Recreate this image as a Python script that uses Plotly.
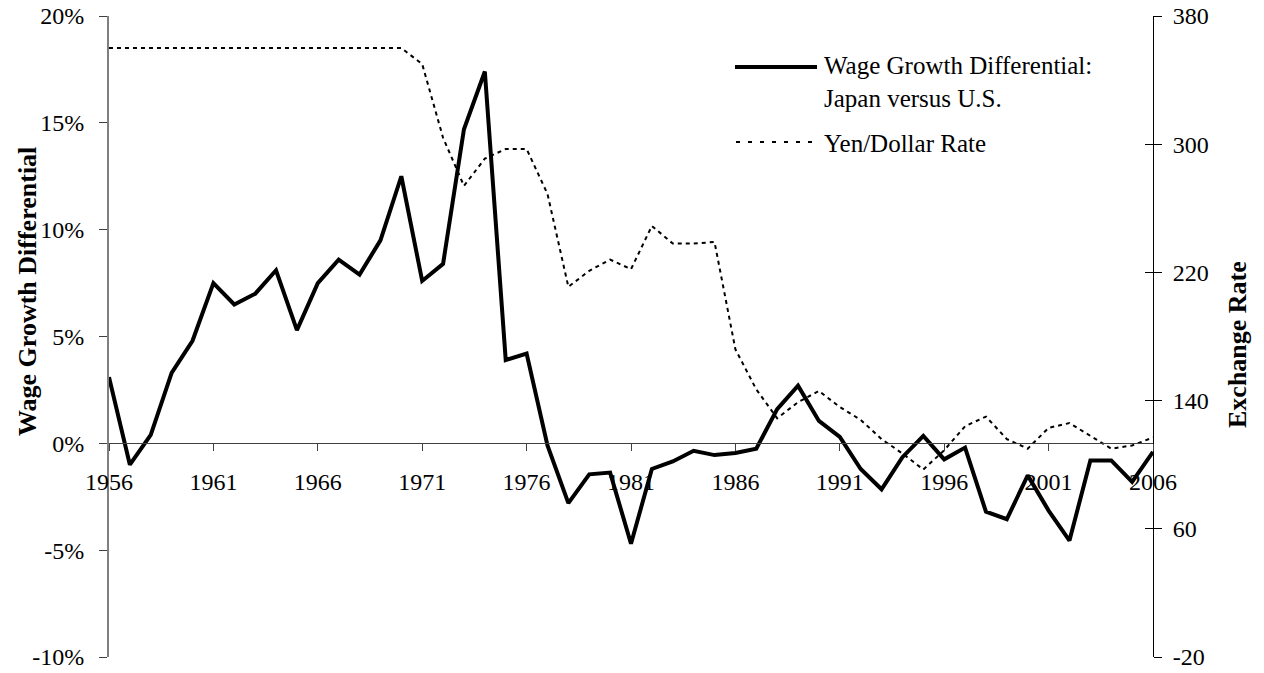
import plotly.graph_objects as go

years = list(range(1956, 2007))
wage_diff = [3.1, -1.0, 0.4, 3.3, 4.8, 7.5, 6.5, 7.0, 8.1, 5.3,
             7.5, 8.6, 7.9, 9.5, 12.5, 7.6, 8.4, 14.7, 17.4, 3.9,
             4.2, -0.1, -2.8, -1.45, -1.37, -4.7, -1.2, -0.85, -0.35, -0.55,
             -0.45, -0.25, 1.6, 2.7, 1.05, 0.3, -1.2, -2.15, -0.65, 0.35,
             -0.75, -0.2, -3.2, -3.55, -1.5, -3.15, -4.55, -0.8, -0.8, -1.8,
             -0.4]
yen_dollar = [360, 360, 360, 360, 360, 360, 360, 360, 360, 360,
              360, 360, 360, 360, 360, 350, 304, 274, 291, 297,
              297, 269, 211, 221, 228, 222, 249, 238, 238, 239,
              172, 147, 129, 139, 146, 136, 128, 116, 107, 97,
              109, 124, 130, 116, 110, 123, 126, 118, 110, 112,
              117]
x_ticks = [1956, 1961, 1966, 1971, 1976, 1981, 1986, 1991, 1996, 2001, 2006]
left_ticks = [-10, -5, 0, 5, 10, 15, 20]
left_labels = ["-10%", "-5%", "0%", "5%", "10%", "15%", "20%"]
right_ticks = [-20, 60, 140, 220, 300, 380]
right_labels = ["-20", "60", "140", "220", "300", "380"]

W, H = 1264, 673
L, R, T, B = 109, 1153, 16, 657
FONT = "Liberation Serif, Times New Roman, serif"


def px(xp):
    return (xp - L) / (R - L)


def py(yp):
    return (B - yp) / (B - T)


fig = go.Figure()
# invisible helper so the inside-tick copy of the right axis is drawn
fig.add_trace(go.Scatter(x=years, y=yen_dollar, yaxis="y3", mode="lines",
                         line=dict(width=0, color="white"), opacity=0,
                         showlegend=False, hoverinfo="skip"))
fig.add_trace(go.Scatter(x=years, y=wage_diff, mode="lines", name="Wage Growth Differential",
                         line=dict(color="black", width=4), yaxis="y", showlegend=False))
fig.add_trace(go.Scatter(x=years, y=yen_dollar, mode="lines", name="Yen/Dollar Rate",
                         line=dict(color="black", width=2, dash="4px,4px"), yaxis="y2",
                         showlegend=False))

fig.update_layout(
    width=W, height=H,
    margin=dict(l=L, r=W - R, t=T, b=H - B, pad=0, autoexpand=False),
    paper_bgcolor="white", plot_bgcolor="white",
    font=dict(family=FONT, size=24, color="black"),
    xaxis=dict(range=[1956, 2006], tickvals=x_ticks, ticktext=[str(v) for v in x_ticks],
               ticks="outside", ticklen=7, automargin=False,
               tickcolor="#404040", showline=True, linecolor="#404040", linewidth=1,
               showgrid=False, zeroline=False, anchor="free", position=1/3,
               ticklabelstandoff=10, tickfont=dict(size=24)),
    yaxis=dict(range=[-10, 20], tickvals=left_ticks, ticktext=left_labels, ticks="outside",
               ticklen=8, tickcolor="#404040", showline=True, linecolor="#808080",
               linewidth=2, showgrid=False, zeroline=False, ticklabelstandoff=10,
               automargin=False, tickfont=dict(size=24)),
    yaxis2=dict(range=[-20, 380], tickvals=right_ticks, ticktext=right_labels,
                overlaying="y", side="right", automargin=False,
                ticks="outside", ticklen=8, tickcolor="black", showline=True,
                linecolor="black", linewidth=1, showgrid=False, zeroline=False,
                ticklabelstandoff=6, tickfont=dict(size=24)),
    yaxis3=dict(range=[-20, 380], tickvals=right_ticks, overlaying="y", side="right",
                anchor="x", ticks="inside", ticklen=8, tickcolor="black", showticklabels=False,
                automargin=False, showline=False, showgrid=False, zeroline=False),
)

fig.update_layout(
    annotations=[
        dict(x=px(27), y=py(292), xref="paper", yref="paper", text="<b>Wage Growth Differential</b>",
             textangle=-90, showarrow=False, font=dict(size=26), xanchor="center", yanchor="middle"),
        dict(x=px(1238), y=py(345), xref="paper", yref="paper", text="<b>Exchange Rate</b>",
             textangle=-90, showarrow=False, font=dict(size=26), xanchor="center", yanchor="middle"),
        dict(x=px(822), y=py(50), xref="paper", yref="paper",
             text="Wage Growth Differential:<br>Japan versus U.S.", align="left",
             showarrow=False, font=dict(size=25), xanchor="left", yanchor="top"),
        dict(x=px(822), y=py(143), xref="paper", yref="paper", text="Yen/Dollar Rate",
             showarrow=False, font=dict(size=25), xanchor="left", yanchor="middle"),
    ],
    shapes=[
        dict(type="line", xref="paper", yref="paper", x0=px(735), x1=px(817), y0=py(67), y1=py(67),
             line=dict(color="black", width=4)),
        dict(type="line", xref="paper", yref="paper", x0=px(736), x1=px(812), y0=py(142), y1=py(142),
             line=dict(color="black", width=2, dash="4px,8px")),
    ],
)

fig.write_html("out.html", config={"displayModeBar": False},
               post_script="document.body.style.margin='0';document.body.style.overflow='hidden';")
